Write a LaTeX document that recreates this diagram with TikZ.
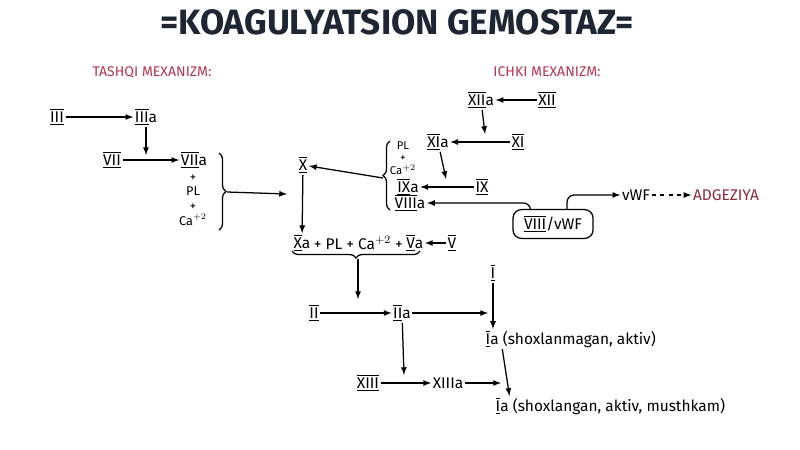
\documentclass[tikz,border=0pt]{standalone}
\usepackage{fontspec}
\setmainfont{Fira Sans}
\usetikzlibrary{arrows,positioning,decorations.pathreplacing}

\definecolor{titleblue}{HTML}{1E2533}
\definecolor{mexred}{HTML}{B83450}
\definecolor{adgred}{HTML}{8E2A3A}
\newcommand{\fct}[1]{$\overline{\underline{\hbox{#1}}}$}

\begin{document}
\begin{tikzpicture}[x=0.025cm,y=-0.025cm,
  every node/.style={inner sep=1pt,font=\fontsize{11}{13}\selectfont},
  arr/.style={-latex,line width=0.9pt},
  brc/.style={decorate,decoration={brace,amplitude=5pt},line width=0.9pt},
  mex/.style={text=mexred,font=\fontsize{10}{12}\selectfont},
  stk/.style={inner sep=0pt,align=center}]

  \useasboundingbox[fill=white] (0,0) rectangle (800,449);

  \node[font=\fontsize{25}{27}\selectfont\bfseries,text=titleblue] (T) at (397,22) {=KOAGULYATSION GEMOSTAZ=};
  \node[mex] (TM) at (152,72) {TASHQI MEXANIZM:};
  \node[mex] (IM) at (547,72) {ICHKI MEXANIZM:};

  % tashqi mexanizm
  \node (III) at (57,117) {\fct{III}};
  \node (IIIa) at (146,117) {\fct{III}a};
  \node (VII) at (112,160) {\fct{VII}};
  \node (VIIa) at (194,160) {\fct{VII}a};
  \node[stk,font=\fontsize{9}{10.5}\selectfont] (stkA) at (193,200) {+\\PL\\+\\Ca$^{+2}$};
  \coordinate (j1) at (146,155);
  \draw[arr] (III) -- (IIIa);
  \draw[arr] (VII) -- (VIIa);
  \draw[arr] (IIIa) -- (j1);
  \draw[brc] (219,153) -- (219,230);
  \coordinate (brA) at (227,192);
  \coordinate (toX) at (287,194);
  \draw[arr] (brA) -- (toX);

  % ichki mexanizm
  \node (XIIa) at (481,100) {\fct{XII}a};
  \node (XII) at (547,100) {\fct{XII}};
  \node (XIa) at (438,142) {\fct{XI}a};
  \node (XI) at (518,142) {\fct{XI}};
  \node[stk,font=\fontsize{8}{9}\selectfont] (stkB) at (403,158) {PL\\+\\Ca$^{+2}$};
  \node (IXa) at (408,187) {\fct{IX}a};
  \node (IX) at (482,187) {\fct{IX}};
  \node (VIIIa) at (410,203) {\fct{VIII}a};
  \coordinate (j2) at (485,134);
  \coordinate (j3) at (446,179);
  \draw[arr] (XII) -- (XIIa);
  \draw[arr] (XI) -- (XIa);
  \draw[arr] (IX) -- (IXa);
  \draw[arr] (XIIa) -- (j2);
  \draw[arr] (XIa) -- (j3);
  \draw[brc] (390,210) -- (390,141);
  \coordinate (brB) at (383,178);

  \node (X) at (303,165) {\fct{X}};
  \draw[arr] (brB) -- (X);

  \node[draw,rounded corners=6pt,line width=0.9pt,minimum width=2cm,minimum height=0.72cm] (VIIIv) at (553,224) {\fct{VIII}/vWF};
  \node (vWF) at (636,195) {vWF};
  \node[text=adgred] (ADG) at (726,195) {ADGEZIYA};
  \draw[arr,rounded corners=5pt] ([xshift=-16pt]VIIIv.north) |- (VIIIa);
  \draw[arr,rounded corners=5pt] ([xshift=10pt]VIIIv.north) |- (vWF);
  \draw[arr,dashed] (vWF) -- (ADG);

  % umumiy yo'l
  \node (Xa) at (302,243) {\fct{X}a};
  \node (sum) [right=0pt of Xa] {+ PL + Ca$^{+2}$ +};
  \node (Va) [right=0pt of sum] {\fct{V}a};
  \node (V) at (452,243) {\fct{V}};
  \draw[arr] (X) -- (Xa);
  \draw[arr] (V) -- (Va);
  \draw[brc] (420,251) -- (292,251);
  \coordinate (brC) at (358,259);
  \coordinate (j4) at (358,299);
  \draw[arr] (brC) -- (j4);

  \node (II) at (314,313) {\fct{II}};
  \node (IIa) at (402,313) {\fct{II}a};
  \node (I) at (493,273) {\fct{I}};
  \node[anchor=west] (Ia) at (484,339) {\fct{I}a (shoxlanmagan, aktiv)};
  \coordinate (j5) at (488,313);
  \draw[arr] (II) -- (IIa);
  \draw[arr] (IIa) -- (j5);
  \draw[arr] (I) -- (I |- Ia.north);

  \node (XIII) at (368,383) {\fct{XIII}};
  \node (XIIIa) at (448,383) {XIIIa};
  \node[anchor=west] (Ib) at (494,406) {\fct{I}a (shoxlangan, aktiv, musthkam)};
  \coordinate (j6) at (404,375);
  \coordinate (j7) at (501,383);
  \draw[arr] (IIa) -- (j6);
  \draw[arr] (XIII) -- (XIIIa);
  \draw[arr] (XIIIa) -- (j7);
  \draw[arr] ([xshift=13pt]Ia.south west) -- ([xshift=11pt]Ib.north west);
\end{tikzpicture}
\end{document}
